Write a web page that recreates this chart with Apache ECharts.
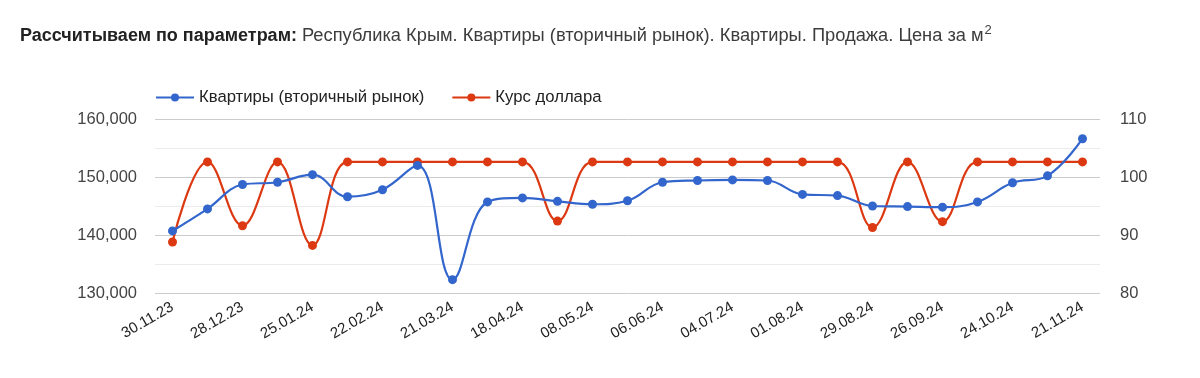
<!DOCTYPE html>
<html>
<head>
<meta charset="utf-8">
<script src="https://cdn.jsdelivr.net/npm/echarts@6/dist/echarts.min.js"></script>
<style>
  html, body { margin: 0; padding: 0; background: #fff; }
  #chart { width: 1200px; height: 378px; }
</style>
</head>
<body>
<div id="chart"></div>
<script>
var dates = ['30.11.23', '14.12.23', '28.12.23', '11.01.24', '25.01.24', '08.02.24', '22.02.24',
  '07.03.24', '21.03.24', '04.04.24', '18.04.24', '25.04.24', '08.05.24', '23.05.24', '06.06.24',
  '20.06.24', '04.07.24', '18.07.24', '01.08.24', '15.08.24', '29.08.24', '12.09.24', '26.09.24',
  '10.10.24', '24.10.24', '07.11.24', '21.11.24'];
// Квартиры (вторичный рынок), руб/м2
var flats = [140700, 144500, 148700, 149100, 150400, 146600, 147800, 152000, 132300, 145700,
  146400, 145800, 145300, 145900, 149100, 149400, 149500, 149400, 147000, 146800, 145000,
  144900, 144800, 145700, 149000, 150200, 156600];
// Курс доллара
var usd = [88.8, 102.6, 91.6, 102.6, 88.2, 102.6, 102.6, 102.6, 102.6, 102.6, 102.6, 92.4,
  102.6, 102.6, 102.6, 102.6, 102.6, 102.6, 102.6, 102.6, 91.3, 102.6, 92.3, 102.6, 102.6,
  102.6, 102.6];

var chart = echarts.init(document.getElementById('chart'));
var font = 'Arial, "Liberation Sans", sans-serif';

chart.setOption({
  animation: false,
  title: {
    left: 15,
    top: 19,
    text: '{b|Рассчитываем по параметрам:} {n|Республика Крым. Квартиры (вторичный рынок). Квартиры. Продажа. Цена за м}{s|2}',
    textStyle: {
      fontWeight: 'normal',
      rich: {
        b: { fontFamily: font, fontSize: 18, fontWeight: 'bold', color: '#222' },
        n: { fontFamily: font, fontSize: 18.3, fontWeight: 'normal', color: '#3c3c3c' },
        s: { fontFamily: font, fontSize: 13, fontWeight: 'normal', color: '#3c3c3c', padding: [0, 0, 11, 1] }
      }
    }
  },
  legend: {
    left: 150,
    top: 84,
    itemWidth: 38,
    itemHeight: 10,
    itemGap: 27,
    textStyle: { fontFamily: font, fontSize: 16.7, color: '#222' },
    data: ['Квартиры (вторичный рынок)', 'Курс доллара']
  },
  grid: { left: 155, right: 100, top: 119, bottom: 85 },
  xAxis: {
    type: 'category',
    data: dates,
    boundaryGap: true,
    axisLine: { show: false },
    axisTick: { show: false },
    axisLabel: {
      interval: 1,
      rotate: 30,
      margin: 13,
      fontFamily: font,
      fontSize: 15,
      color: '#222'
    }
  },
  yAxis: [{
    type: 'value',
    min: 130000,
    max: 160000,
    interval: 10000,
    axisLine: { show: false },
    axisTick: { show: false },
    axisLabel: {
      margin: 18,
      fontFamily: font,
      fontSize: 16.5,
      color: '#444',
      formatter: function (v) { return v.toLocaleString('en-US'); }
    },
    splitLine: { lineStyle: { color: '#cccccc', width: 1 } },
    minorTick: { show: false, splitNumber: 2 },
    minorSplitLine: { show: true, lineStyle: { color: '#ebebeb', width: 1 } }
  }, {
    type: 'value',
    min: 80,
    max: 110,
    interval: 10,
    axisLine: { show: false },
    axisTick: { show: false },
    splitLine: { show: false },
    axisLabel: {
      margin: 20,
      fontFamily: font,
      fontSize: 16.5,
      color: '#444'
    }
  }],
  series: [{
    name: 'Квартиры (вторичный рынок)',
    type: 'line',
    data: flats,
    yAxisIndex: 0,
    smooth: 0.4,
    symbol: 'circle',
    symbolSize: 9,
    lineStyle: { width: 2.2, color: '#3366cc' },
    itemStyle: { color: '#3366cc' },
    z: 3
  }, {
    name: 'Курс доллара',
    type: 'line',
    data: usd,
    yAxisIndex: 1,
    smooth: 0.4,
    symbol: 'circle',
    symbolSize: 9,
    lineStyle: { width: 2.2, color: '#dc3912' },
    itemStyle: { color: '#dc3912' },
    z: 2
  }]
});
</script>
</body>
</html>
